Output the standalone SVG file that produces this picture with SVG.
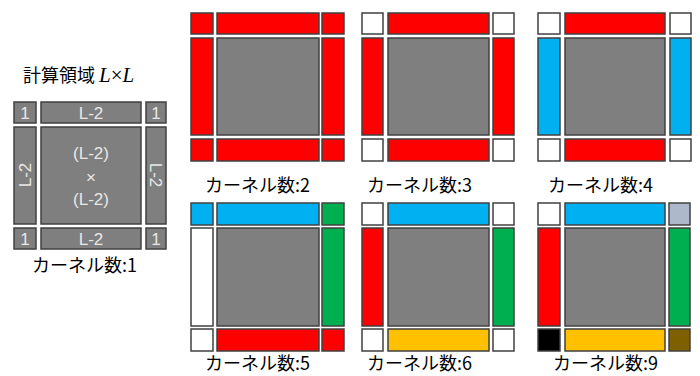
<svg xmlns="http://www.w3.org/2000/svg" width="700" height="376" viewBox="0 0 700 376">
<style>
rect{stroke:#404040;stroke-width:1.5}
.g{fill:#7f7f7f}.r{fill:#ff0000}.w{fill:#ffffff}.b{fill:#00b0f0}.gr{fill:#00b050}.y{fill:#ffc000}.s{fill:#adb9ca}.k{fill:#000000}.br{fill:#7f6000}
.lab{font-family:"Noto Sans CJK JP","Noto Sans",sans-serif;font-size:18px;fill:#000}
.in{font-family:"Liberation Sans","Noto Sans",sans-serif;font-size:17px;fill:#e8e8e8;text-anchor:middle}
.m{font-family:"Liberation Serif",serif;font-size:21px}
</style>
<rect width="700" height="376" fill="#fff" style="stroke:none"/>
<g id="panel1">
<text class="lab" x="23" y="82">計算領域 <tspan class="m" font-style="italic">L</tspan><tspan class="m">×</tspan><tspan class="m" font-style="italic">L</tspan></text>
<rect class="g" x="14" y="102" width="22" height="21"/>
<rect class="g" x="41" y="102" width="100" height="21"/>
<rect class="g" x="146" y="102" width="20" height="21"/>
<rect class="g" x="14" y="127" width="22" height="97"/>
<rect class="g" x="41" y="127" width="100" height="97"/>
<rect class="g" x="146" y="127" width="20" height="97"/>
<rect class="g" x="14" y="228" width="22" height="21"/>
<rect class="g" x="41" y="228" width="100" height="21"/>
<rect class="g" x="146" y="228" width="20" height="21"/>
<text class="in" x="25" y="119">1</text>
<text class="in" x="91" y="119">L-2</text>
<text class="in" x="156" y="119">1</text>
<text class="in" x="25" y="245">1</text>
<text class="in" x="91" y="245">L-2</text>
<text class="in" x="156" y="245">1</text>
<text class="in" transform="translate(31,175) rotate(-90)">L-2</text>
<text class="in" transform="translate(150,175) rotate(90)">L-2</text>
<text class="in" x="91" y="159">(L-2)</text>
<text class="in" x="91" y="183">×</text>
<text class="in" x="91" y="205">(L-2)</text>
<text class="lab" x="32" y="272">カーネル数:1</text>
</g>
<g id="panel2">
<rect class="r" x="191" y="13" width="22" height="21"/>
<rect class="r" x="217" y="13" width="102" height="21"/>
<rect class="r" x="322" y="13" width="22" height="21"/>
<rect class="r" x="191" y="38" width="22" height="97"/>
<rect class="g" x="217" y="38" width="102" height="97"/>
<rect class="r" x="322" y="38" width="22" height="97"/>
<rect class="r" x="191" y="139" width="22" height="22"/>
<rect class="r" x="217" y="139" width="102" height="22"/>
<rect class="r" x="322" y="139" width="22" height="22"/>
<text class="lab" x="205" y="192">カーネル数:2</text>
</g>
<g id="panel3">
<rect class="w" x="362" y="13" width="21" height="21"/>
<rect class="r" x="388" y="13" width="101" height="21"/>
<rect class="w" x="493" y="13" width="21" height="21"/>
<rect class="r" x="362" y="38" width="21" height="97"/>
<rect class="g" x="388" y="38" width="101" height="97"/>
<rect class="r" x="493" y="38" width="21" height="97"/>
<rect class="w" x="362" y="139" width="21" height="22"/>
<rect class="r" x="388" y="139" width="101" height="22"/>
<rect class="w" x="493" y="139" width="21" height="22"/>
<text class="lab" x="367" y="192">カーネル数:3</text>
</g>
<g id="panel4">
<rect class="w" x="538" y="13" width="22" height="21"/>
<rect class="r" x="565" y="13" width="100" height="21"/>
<rect class="w" x="670" y="13" width="21" height="21"/>
<rect class="b" x="538" y="38" width="22" height="97"/>
<rect class="g" x="565" y="38" width="100" height="97"/>
<rect class="b" x="670" y="38" width="21" height="97"/>
<rect class="w" x="538" y="139" width="22" height="22"/>
<rect class="r" x="565" y="139" width="100" height="22"/>
<rect class="w" x="670" y="139" width="21" height="22"/>
<text class="lab" x="548" y="192">カーネル数:4</text>
</g>
<g id="panel5">
<rect class="b" x="191" y="203" width="22" height="22"/>
<rect class="b" x="217" y="203" width="102" height="22"/>
<rect class="gr" x="322" y="203" width="22" height="22"/>
<rect class="w" x="191" y="228" width="22" height="98"/>
<rect class="g" x="217" y="228" width="102" height="98"/>
<rect class="gr" x="322" y="228" width="22" height="98"/>
<rect class="w" x="191" y="329" width="22" height="22"/>
<rect class="r" x="217" y="329" width="102" height="22"/>
<rect class="r" x="322" y="329" width="22" height="22"/>
<text class="lab" x="205" y="370">カーネル数:5</text>
</g>
<g id="panel6">
<rect class="w" x="362" y="203" width="21" height="22"/>
<rect class="b" x="388" y="203" width="101" height="22"/>
<rect class="w" x="493" y="203" width="21" height="22"/>
<rect class="r" x="362" y="228" width="21" height="98"/>
<rect class="g" x="388" y="228" width="101" height="98"/>
<rect class="gr" x="493" y="228" width="21" height="98"/>
<rect class="w" x="362" y="329" width="21" height="22"/>
<rect class="y" x="388" y="329" width="101" height="22"/>
<rect class="w" x="493" y="329" width="21" height="22"/>
<text class="lab" x="367" y="370">カーネル数:6</text>
</g>
<g id="panel9">
<rect class="w" x="538" y="203" width="22" height="22"/>
<rect class="b" x="565" y="203" width="100" height="22"/>
<rect class="s" x="669" y="203" width="21" height="22"/>
<rect class="r" x="538" y="228" width="22" height="98"/>
<rect class="g" x="565" y="228" width="100" height="98"/>
<rect class="gr" x="669" y="228" width="21" height="98"/>
<rect class="k" x="538" y="329" width="22" height="22"/>
<rect class="y" x="565" y="329" width="100" height="22"/>
<rect class="br" x="669" y="329" width="21" height="22"/>
<text class="lab" x="553" y="370">カーネル数:9</text>
</g>
</svg>
